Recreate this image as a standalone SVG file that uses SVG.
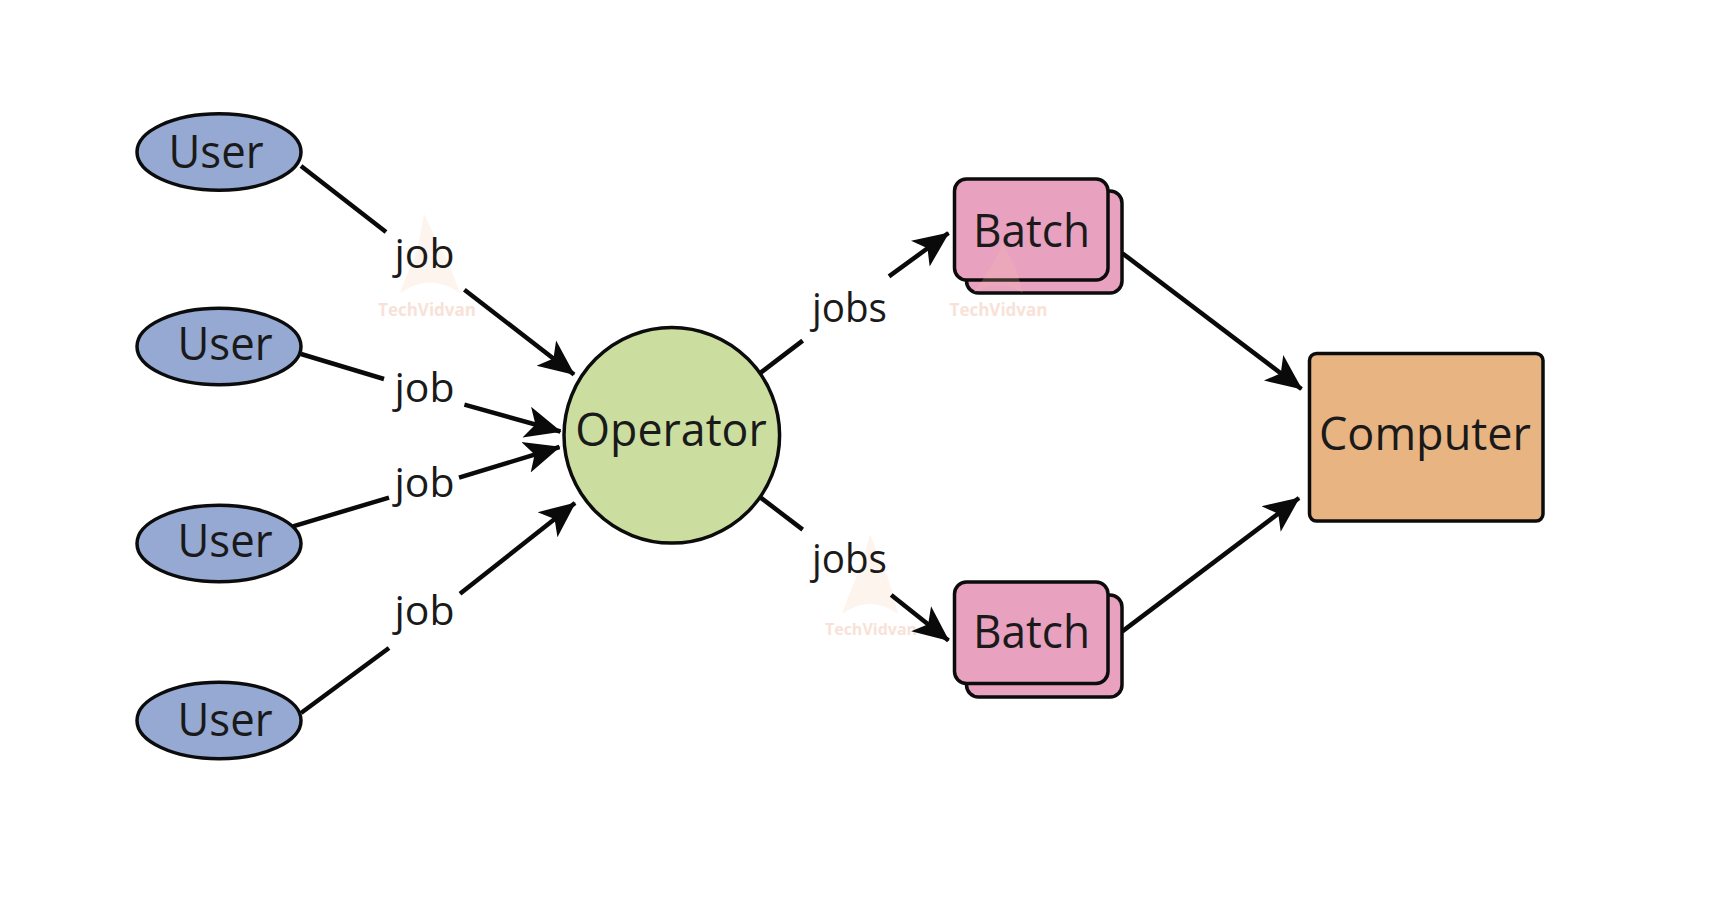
<svg xmlns="http://www.w3.org/2000/svg" width="1736" height="908" viewBox="0 0 1736 908">
<style>
text{font-family:"Open Sans","Noto Sans","Liberation Sans",sans-serif;fill:#1a1a1a;text-anchor:middle}
.n{font-size:46px}
.l{font-size:40px}
.u{fill:#95a9d3;stroke:#0c0c0c;stroke-width:3.5}
.o{fill:#cbdea0;stroke:#0c0c0c;stroke-width:3.5}
.b{fill:#e8a1bf;stroke:#0c0c0c;stroke-width:3.5}
.c{fill:#e8b582;stroke:#0c0c0c;stroke-width:3.5}
.w{font-size:17px;font-weight:700;fill:#f8e2d8}
.w3{font-size:16px}
.m{fill:#f3c9a8;fill-opacity:.2}
#connectors line{stroke:#0a0a0a;stroke-width:4.5;stroke-linecap:butt}
.a{marker-end:url(#arrow)}
</style>
<defs>
<marker id="arrow" markerUnits="userSpaceOnUse" markerWidth="40" markerHeight="36" refX="35" refY="17" orient="auto">
<path d="M0,1 L36,17 L0,33 L9,17 Z" fill="#0a0a0a"/>
</marker>
</defs>
<rect width="1736" height="908" fill="#fff"/>
<g id="batch1">
<rect class="b" x="966.500" y="191" width="155.500" height="102" rx="12"/>
<rect class="b" x="954.500" y="179" width="153.500" height="101" rx="12"/>
<text class="n" x="1031.500" y="247" textLength="117" lengthAdjust="spacingAndGlyphs">Batch</text>
</g>
<g id="batch2">
<rect class="b" x="966.500" y="595" width="155.500" height="102" rx="12"/>
<rect class="b" x="954.500" y="582" width="153.500" height="101.500" rx="12"/>
<text class="n" x="1031.500" y="648" textLength="117" lengthAdjust="spacingAndGlyphs">Batch</text>
</g>
<g id="watermarks">
<path class="m" d="M424,214 Q436,240 446,258 Q454,276 460,293 Q430,272 400,293 Q406,276 414,258 Q420,240 424,214 Z"/>
<text class="w" x="427" y="316">TechVidvan</text>
<path class="m" d="M1002,241 Q1010,258 1016,268 Q1020,282 1023,293 Q998,278 973,293 Q982,282 990,268 Q998,258 1002,241 Z"/>
<text class="w" x="998.500" y="316">TechVidvan</text>
<path class="m" d="M870,534 Q880,560 888,578 Q894,596 898,614 Q870,594 842,614 Q848,596 856,578 Q864,560 870,534 Z"/>
<text class="w w3" x="871" y="635">TechVidvan</text>
</g>
<g id="connectors">
<line x1="301" y1="166" x2="386" y2="232"/><line class="a" x1="464.400" y1="289.700" x2="574" y2="374.500"/>
<line x1="301" y1="354" x2="384" y2="379"/><line class="a" x1="464.400" y1="404.700" x2="560.500" y2="431.500"/>
<line x1="293" y1="526.300" x2="389" y2="497.600"/><line class="a" x1="459" y1="477.700" x2="559.500" y2="447"/>
<line x1="301" y1="713" x2="389" y2="648"/><line class="a" x1="460" y1="593.800" x2="575" y2="503"/>
<line x1="760.700" y1="372.600" x2="802.700" y2="340.600"/><line class="a" x1="889" y1="276.400" x2="948.500" y2="233"/>
<line x1="760.700" y1="497.600" x2="802.700" y2="529.600"/><line class="a" x1="891.200" y1="594.900" x2="948.500" y2="640.500"/>
<line class="a" x1="1122.300" y1="253.200" x2="1301.500" y2="389"/>
<line class="a" x1="1122.300" y1="631.400" x2="1299" y2="498"/>
</g>
<g id="user1"><ellipse class="u" cx="219" cy="152" rx="82" ry="38.200"/><text class="n" x="216" y="168" textLength="95" lengthAdjust="spacingAndGlyphs">User</text></g>
<g id="user2"><ellipse class="u" cx="219" cy="346.500" rx="82" ry="38.200"/><text class="n" x="225" y="360" textLength="95" lengthAdjust="spacingAndGlyphs">User</text></g>
<g id="user3"><ellipse class="u" cx="219" cy="543.500" rx="82" ry="38.200"/><text class="n" x="225" y="557" textLength="95" lengthAdjust="spacingAndGlyphs">User</text></g>
<g id="user4"><ellipse class="u" cx="219" cy="720.500" rx="82" ry="38.200"/><text class="n" x="225" y="736" textLength="95" lengthAdjust="spacingAndGlyphs">User</text></g>
<g id="operator"><circle class="o" cx="671.800" cy="435.300" r="107.800"/><text class="n" x="671" y="446" textLength="191.500" lengthAdjust="spacingAndGlyphs">Operator</text></g>
<g id="computer"><rect class="c" x="1309.500" y="353.500" width="233.500" height="167.500" rx="7"/><text class="n" x="1425" y="450" textLength="212" lengthAdjust="spacingAndGlyphs">Computer</text></g>
<g id="labels">
<text class="l" x="424.500" y="268" textLength="60" lengthAdjust="spacingAndGlyphs">job</text>
<text class="l" x="424.500" y="402" textLength="60" lengthAdjust="spacingAndGlyphs">job</text>
<text class="l" x="424.500" y="497" textLength="60" lengthAdjust="spacingAndGlyphs">job</text>
<text class="l" x="424.500" y="625" textLength="60" lengthAdjust="spacingAndGlyphs">job</text>
<text class="l" x="849.500" y="322" textLength="75" lengthAdjust="spacingAndGlyphs">jobs</text>
<text class="l" x="849.500" y="573" textLength="75" lengthAdjust="spacingAndGlyphs">jobs</text>
</g>
</svg>
